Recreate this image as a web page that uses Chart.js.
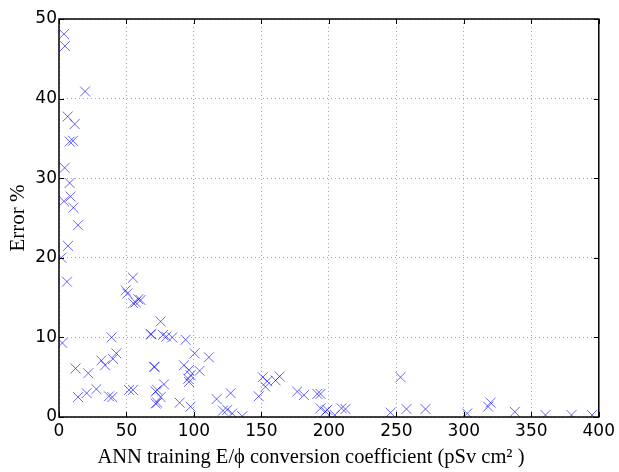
<!DOCTYPE html>
<html>
<head>
<meta charset="utf-8">
<script src="https://cdn.jsdelivr.net/npm/chart.js@4"></script>
<style>
    body { margin: 0; background: #fff; }
    #wrap { width: 619px; height: 472px; }
</style>
</head>
<body>
<div id="wrap"><canvas id="errorChart" width="619" height="472"></canvas></div>
<script>
// conversion coefficient (pSv cm2) vs error %
const coeffValues = [
    3.7, 4.4, 19.3, 6.4, 11.6, 7.9, 10.4, 4.2, 7.9, 8.6, 3.7, 10.6,
    14.1, 6.7, 1.7, 5.9, 54.8, 49.4, 50.6, 58.8, 56.8, 55.0, 67.9, 2.5,
    39.0, 42.5, 40.0, 31.4, 34.1, 12.3, 21.7, 70.4, 27.7, 20.5, 14.1, 37.0,
    39.5, 51.9, 54.8, 71.6, 71.6,
    60.5, 75.3, 68.4, 77.0, 79.5, 83.9, 93.8, 100.5, 111.1, 70.9, 92.6, 96.3,
    104.2, 97.5, 95.8, 96.3, 77.8, 72.8, 75.3, 72.8, 89.4, 97.5, 116.8, 127.2,
    121.5, 124.7, 128.4, 135.8, 148.0, 151.0, 153.0, 154.3, 160.5, 163.5, 176.5, 181.5,
    191.4, 193.8, 193.8, 197.5, 198.8, 204.4, 209.4, 212.3, 245.7, 253.1, 257.5, 271.6,
    302.5, 318.0, 319.8, 337.8, 360.5, 379.8, 395.0
];
const errorValues = [
    48.1, 46.6, 40.9, 37.75, 36.8, 34.6, 34.7, 31.3, 29.4, 27.7, 27.1, 26.3,
    24.1, 21.5, 20.0, 17.0, 17.5, 15.9, 15.5, 14.8, 14.4, 14.3, 10.4, 9.3,
    10.0, 8.0, 7.3, 7.1, 6.5, 6.1, 5.5, 6.3, 3.5, 3.0, 2.5, 2.6,
    2.5, 3.4, 3.4, 3.2, 1.7,
    14.7, 12.0, 10.4, 10.3, 10.1, 10.0, 9.7, 8.0, 7.5, 6.3, 6.5, 5.9,
    5.8, 5.25, 4.8, 4.4, 4.1, 3.4, 2.5, 1.8, 1.8, 1.3, 2.25, 3.0,
    0.8, 0.9, 0.45, 0.1, 2.6, 5.0, 3.8, 4.5, 4.6, 5.1, 3.2, 2.75,
    2.9, 1.1, 2.9, 0.7, 0.9, 0.25, 1.1, 1.0, 0.55, 5.0, 1.0, 1.0,
    0.45, 1.3, 1.8, 0.65, 0.25, 0.25, 0.25
];
const xTicks = [0, 50, 100, 150, 200, 250, 300, 350, 400];
const yTicks = [0, 10, 20, 30, 40, 50];

const points = coeffValues.map((x, i) => ({ x: x, y: errorValues[i] }));

// matplotlib style: ticks pointing inward on all four sides + frame
const inwardTicks = {
    id: 'inwardTicks',
    afterDraw(chart) {
        const { ctx, chartArea: a, scales } = chart;
        ctx.save();
        ctx.strokeStyle = '#000';
        ctx.lineWidth = 1;
        ctx.beginPath();
        xTicks.forEach(v => {
            const px = Math.round(scales.x.getPixelForValue(v)) + 0.5;
            ctx.moveTo(px, a.bottom); ctx.lineTo(px, a.bottom - 5);
            ctx.moveTo(px, a.top); ctx.lineTo(px, a.top + 5);
        });
        yTicks.forEach(v => {
            const py = Math.round(scales.y.getPixelForValue(v)) + 0.5;
            ctx.moveTo(a.left, py); ctx.lineTo(a.left + 5, py);
            ctx.moveTo(a.right, py); ctx.lineTo(a.right - 5, py);
        });
        ctx.stroke();
        ctx.lineWidth = 1.5;
        ctx.strokeRect(a.left, a.top, a.right - a.left, a.bottom - a.top);
        ctx.restore();
    }
};

new Chart(document.getElementById('errorChart').getContext('2d'), {
    type: 'scatter',
    data: {
        datasets: [{
            data: points,
            clip: 0,
            pointStyle: 'crossRot',
            pointRadius: 7,
            pointHoverRadius: 7,
            borderColor: 'rgba(0, 0, 255, 0.6)',
            backgroundColor: 'rgba(0, 0, 255, 0.6)',
            pointBorderWidth: 1
        }]
    },
    options: {
        responsive: false,
        animation: false,
        layout: { padding: { top: 19, right: 19, left: 0, bottom: 0 } },
        plugins: { legend: { display: false }, tooltip: { enabled: false } },
        scales: {
            x: {
                type: 'linear', min: 0, max: 400,
                afterBuildTicks: s => { s.ticks = xTicks.map(v => ({ value: v })); },
                afterFit: s => { s.height = 55; },
                grid: { color: '#a8a8a8', lineWidth: 1, drawTicks: false, tickLength: 0 },
                border: { display: false, dash: [1, 3] },
                ticks: { color: '#000', padding: 4, font: { family: 'DejaVu Sans', size: 17 }, maxRotation: 0 },
                title: {
                    display: true,
                    // trailing spaces nudge the centred title left like the original
                    text: 'ANN training E/\u03d5 conversion coefficient (pSv cm\u00b2 )\u00a0\u00a0\u00a0\u00a0\u00a0\u00a0\u00a0',
                    color: '#000',
                    font: { family: 'Liberation Serif', size: 20.5 },
                    padding: { top: 0, bottom: 2 }
                }
            },
            y: {
                type: 'linear', min: 0, max: 50,
                afterBuildTicks: s => { s.ticks = yTicks.map(v => ({ value: v })); },
                afterFit: s => { s.width = 59; },
                grid: { color: '#a8a8a8', lineWidth: 1, drawTicks: false, tickLength: 0 },
                border: { display: false, dash: [1, 3] },
                ticks: { color: '#000', padding: 2, font: { family: 'DejaVu Sans', size: 17 } },
                title: {
                    display: true,
                    text: 'Error %',
                    color: '#000',
                    font: { family: 'Liberation Serif', size: 21 },
                    padding: { top: 6, bottom: 0 }
                }
            }
        }
    },
    plugins: [inwardTicks]
});
</script>
</body>
</html>
